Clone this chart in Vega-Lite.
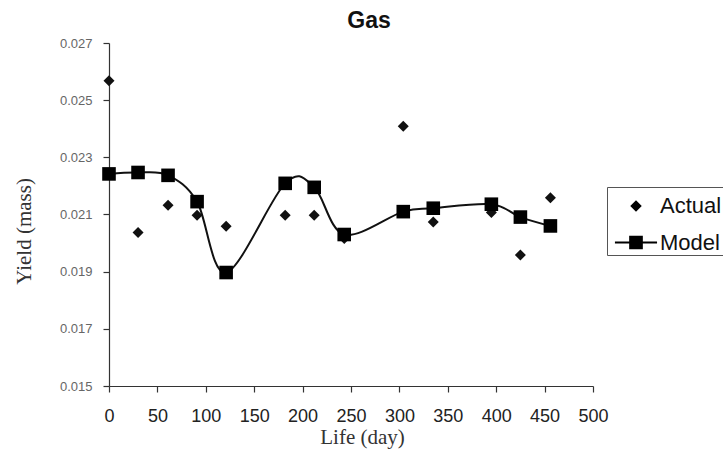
{
  "$schema": "https://vega.github.io/schema/vega-lite/v6.json",
  "autosize": "none",
  "width": 484,
  "height": 343,
  "padding": {"left": 109, "top": 43, "right": 130, "bottom": 71},
  "background": "white",
  "config": {
    "view": {"stroke": null},
    "axis": {"grid": false, "domainColor": "#333", "tickColor": "#333", "domainWidth": 1.2, "tickWidth": 1.2}
  },
  "title": {
    "text": "Gas",
    "font": "Liberation Sans",
    "fontSize": 23,
    "fontWeight": "bold",
    "color": "#111",
    "anchor": "middle",
    "frame": "group",
    "dx": 18,
    "baseline": "alphabetic",
    "offset": -14
  },
  "datasets": {
    "yields": [
      {"day": 0, "series": "Actual", "yield": 0.02568},
      {"day": 30, "series": "Actual", "yield": 0.02037},
      {"day": 61, "series": "Actual", "yield": 0.02132},
      {"day": 91, "series": "Actual", "yield": 0.02097},
      {"day": 121, "series": "Actual", "yield": 0.02059},
      {"day": 182, "series": "Actual", "yield": 0.02097},
      {"day": 212, "series": "Actual", "yield": 0.02097},
      {"day": 243, "series": "Actual", "yield": 0.02016},
      {"day": 304, "series": "Actual", "yield": 0.02409},
      {"day": 335, "series": "Actual", "yield": 0.02074},
      {"day": 395, "series": "Actual", "yield": 0.02107},
      {"day": 425, "series": "Actual", "yield": 0.01958},
      {"day": 456, "series": "Actual", "yield": 0.02159},
      {"day": 0, "series": "Model", "yield": 0.02242},
      {"day": 30, "series": "Model", "yield": 0.02247},
      {"day": 61, "series": "Model", "yield": 0.02237},
      {"day": 91, "series": "Model", "yield": 0.02145},
      {"day": 121, "series": "Model", "yield": 0.01897},
      {"day": 182, "series": "Model", "yield": 0.02209},
      {"day": 212, "series": "Model", "yield": 0.02195},
      {"day": 243, "series": "Model", "yield": 0.0203},
      {"day": 304, "series": "Model", "yield": 0.0211},
      {"day": 335, "series": "Model", "yield": 0.02122},
      {"day": 395, "series": "Model", "yield": 0.02136},
      {"day": 425, "series": "Model", "yield": 0.02091},
      {"day": 456, "series": "Model", "yield": 0.0206}
    ],
    "legendRows": [
      {"series": "Actual"},
      {"series": "Model"}
    ]
  },
  "encoding": {
    "x": {
      "field": "day",
      "type": "quantitative",
      "scale": {"domain": [0, 500], "nice": false},
      "axis": {
        "title": "Life (day)",
        "values": [0, 50, 100, 150, 200, 250, 300, 350, 400, 450, 500],
        "tickSize": 6,
        "labelFont": "Liberation Sans",
        "labelFontSize": 18,
        "labelColor": "#222",
        "labelBaseline": "alphabetic",
        "labelPadding": 29,
        "labelFlush": false,
        "labelOverlap": false,
        "titleFont": "Liberation Serif",
        "titleFontSize": 21,
        "titleFontWeight": "normal",
        "titleColor": "#333",
        "titleX": 253,
        "titleY": 57,
        "titleAlign": "center",
        "titleBaseline": "alphabetic"
      }
    },
    "y": {
      "field": "yield",
      "type": "quantitative",
      "scale": {"domain": [0.015, 0.027], "nice": false, "zero": false},
      "axis": {
        "title": "Yield (mass)",
        "values": [0.015, 0.017, 0.019, 0.021, 0.023, 0.025, 0.027],
        "format": ".3f",
        "tickSize": 6,
        "labelFont": "Liberation Sans",
        "labelFontSize": 13,
        "labelColor": "#666",
        "labelPadding": 11,
        "labelFlush": false,
        "labelOverlap": false,
        "titleFont": "Liberation Serif",
        "titleFontSize": 21,
        "titleFontWeight": "normal",
        "titleColor": "#333",
        "titleX": -79,
        "titleY": 188,
        "titleAngle": -90,
        "titleAlign": "center",
        "titleBaseline": "alphabetic"
      }
    }
  },
  "layer": [
    {
      "data": {"name": "yields"},
      "transform": [{"filter": "datum.series === 'Model'"}],
      "mark": {"type": "line", "color": "#111", "strokeWidth": 2, "interpolate": "cardinal", "tension": 0}
    },
    {
      "data": {"name": "yields"},
      "transform": [{"filter": "datum.series === 'Actual'"}],
      "mark": {"type": "point", "shape": "diamond", "filled": true, "color": "#111", "size": 121, "opacity": 1}
    },
    {
      "data": {"name": "yields"},
      "transform": [{"filter": "datum.series === 'Model'"}],
      "mark": {"type": "point", "shape": "square", "filled": true, "color": "#000", "size": 185, "opacity": 1}
    },
    {
      "data": {"name": "legendRows"},
      "mark": {"type": "point", "filled": true, "color": "#000", "opacity": 0, "size": 1296},
      "encoding": {
        "x": {"value": 240},
        "y": {"value": 170},
        "shape": {
          "field": "series",
          "type": "nominal",
          "scale": {
            "domain": ["Actual", "Model"],
            "range": [
              "M0,-0.32L0.32,0L0,0.32L-0.32,0Z",
              "M-1.17,-0.055H-0.38V-0.38H0.38V-0.055H1.17V0.055H0.38V0.38H-0.38V0.055H-1.17Z"
            ]
          },
          "legend": {
            "title": null,
            "orient": "none",
            "legendX": 498,
            "legendY": 144,
            "padding": 1,
            "symbolOffset": 10,
            "symbolSize": 1296,
            "rowPadding": 7.5,
            "labelOffset": 6,
            "labelFont": "Liberation Sans",
            "labelFontSize": 22,
            "labelColor": "#111",
            "labelLimit": 200,
            "strokeColor": "#555",
            "symbolOpacity": 1,
            "symbolFillColor": "#000",
            "symbolStrokeColor": "transparent",
            "symbolStrokeWidth": 0,
            "encode": {
              "symbols": {
                "update": {
                  "fill": {"value": "#000"},
                  "opacity": {"value": 1}
                }
              }
            }
          }
        }
      }
    }
  ]
}
